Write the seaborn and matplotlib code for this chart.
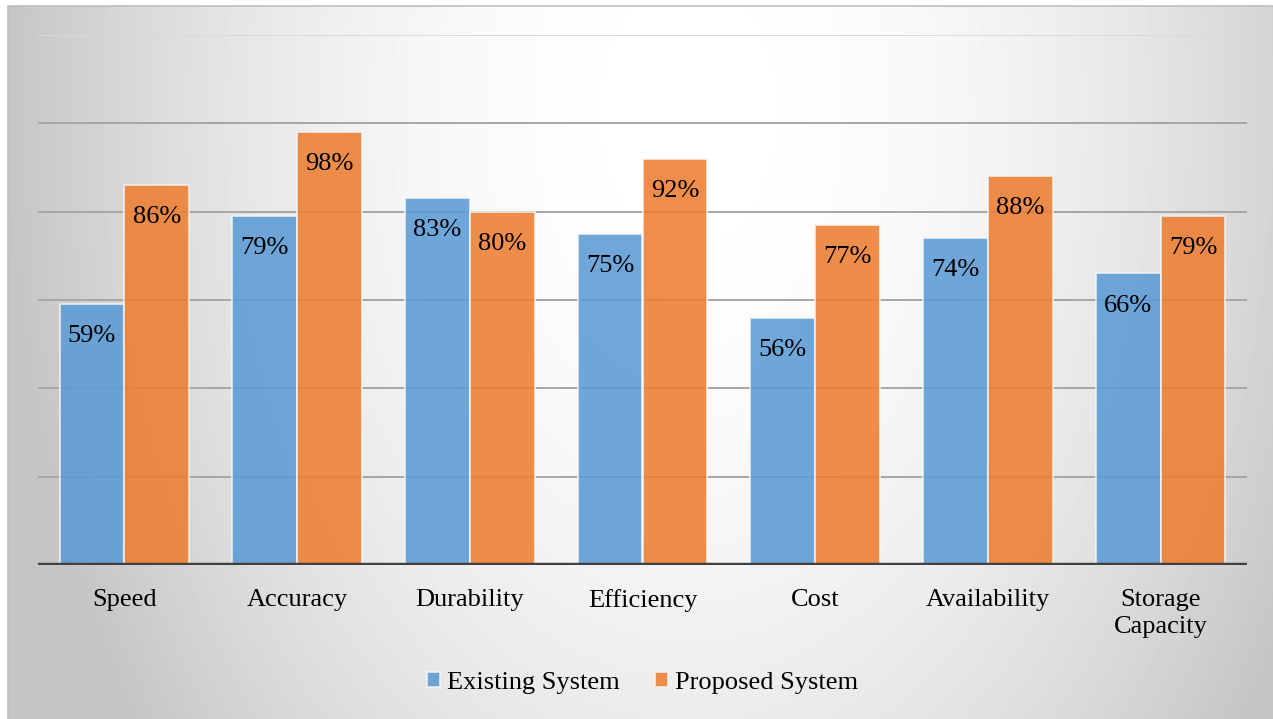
import numpy as np
import pandas as pd
import matplotlib
matplotlib.use("Agg")
import matplotlib.pyplot as plt
import seaborn as sns

categories = ["Speed", "Accuracy", "Durability", "Efficiency", "Cost",
              "Availability", "Storage\nCapacity"]
existing = [59, 79, 83, 75, 56, 74, 66]
proposed = [86, 98, 80, 92, 77, 88, 79]
series_names = ["Existing System", "Proposed System"]
colors = ["#5B9BD5", "#ED7D31"]

df = pd.DataFrame({
    "category": categories * 2,
    "value": existing + proposed,
    "series": [series_names[0]] * len(categories) + [series_names[1]] * len(categories),
})

sns.set_theme(style="white")
plt.rcParams["font.family"] = ["Liberation Serif", "DejaVu Serif"]

W, H = 1273, 719
fig = plt.figure(figsize=(W / 100, H / 100), dpi=100, facecolor="white")

# background gradient
bg = fig.add_axes([8 / W, 0, 1 - 8 / W, 713 / H])
yy, xx = np.mgrid[0:713, 0:1265]
cx, cy = 680, 105
r2 = ((xx - cx) / 880.0) ** 2 + ((yy - cy) / 1350.0) ** 2
img = np.clip(1 - 0.38 * r2, 0.77, 1.0)
bg.imshow(img, cmap="gray", vmin=0, vmax=1, aspect="auto", interpolation="bilinear")
bg.set_axis_off()
fig.add_artist(plt.Line2D([8 / W, 1], [713 / H, 713 / H], color="#bfbfbf", lw=1.2))
fig.add_artist(plt.Line2D([8 / W, 8 / W], [0, 713 / H], color="#bfbfbf", lw=1.2))

ax = fig.add_axes([38 / W, (H - 565) / H, (1247 - 38) / W, (565 - 35) / H])
ax.patch.set_alpha(0)
sns.barplot(data=df, x="category", y="value", hue="series", palette=colors,
            saturation=1, width=0.75, alpha=0.88, edgecolor="#f6f6f6", linewidth=1.2,
            ax=ax, zorder=3, legend=True)

ax.set_ylim(0, 120)
ax.set_xlim(-0.5, len(categories) - 0.5)
for g in [20, 40, 60, 80, 100]:
    ax.axhline(g, color="#a6a6a6", lw=1.4, zorder=1)
ax.axhline(120, color="#d9d9d9", lw=1.4, zorder=1)
ax.axhline(0, color="#404040", lw=3.2, zorder=4)

for cont in ax.containers:
    ax.bar_label(cont, labels=[f"{int(v)}%" for v in cont.datavalues],
                 label_type="edge", padding=-31, fontsize=19, color="black", zorder=5)

for s in ax.spines.values():
    s.set_visible(False)
ax.set_yticks([])
ax.set_xlabel("")
ax.set_ylabel("")
ax.set_xticks(range(len(categories)))
ax.set_xticklabels(categories, linespacing=1.3, color="black", fontsize=19)
ax.tick_params(axis="x", length=0, pad=17)

leg = ax.legend(loc="center", bbox_to_anchor=(0.5, -0.222), ncol=2, frameon=False,
                fontsize=19, handlelength=0.5, handleheight=0.5, handletextpad=0.25,
                columnspacing=1.35)
for t in leg.get_texts():
    t.set_color("black")

fig.savefig("out.png", dpi=100, facecolor="white")
